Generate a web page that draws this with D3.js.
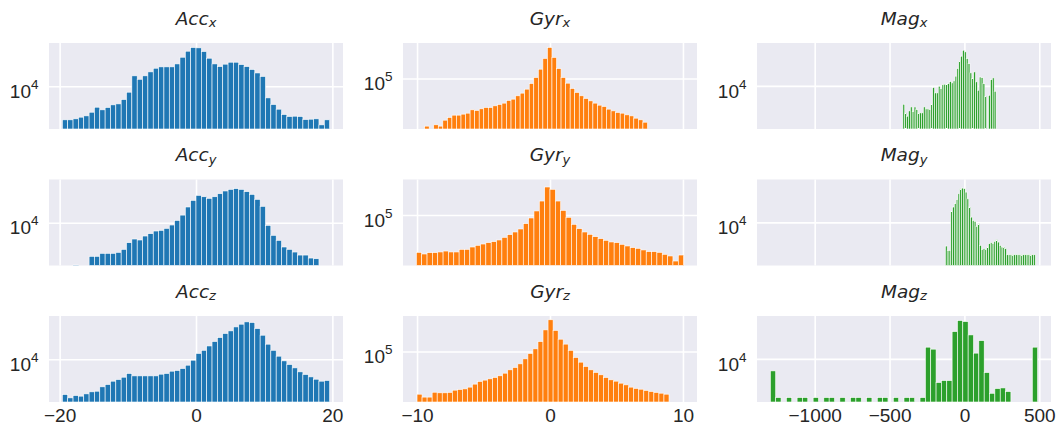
<!DOCTYPE html>
<html>
<head>
<meta charset="utf-8">
<script src="https://cdn.jsdelivr.net/npm/d3@7"></script>
<style>
  body { margin: 0; background: #fff; }
  svg { display: block; }
</style>
</head>
<body>
<div id="chart"></div>
<script>
// histogram counts, 50 bins each
var accX = [3130,3130,3240,3430,3590,4070,4840,4420,4790,5250,
            5430,6310,8130,14300,12700,14300,16400,18600,19500,19500,
            19500,21600,27200,33500,38000,37600,33100,26300,21600,19700,
            21400,22900,22900,21100,19700,17800,15800,14000,6680,5310,
            4520,3760,3510,3550,3510,3160,3200,3240,2630,3130];
var accY = [0,0,2320,0,0,3130,3130,3470,3470,3470,
            3590,3980,5010,5690,5500,6310,6840,7500,7670,8220,
            9230,10800,13000,17200,21600,25700,24500,23200,24500,27200,
            29900,31600,32400,31600,29200,26600,22400,17600,9120,6460,
            5430,4320,3980,3630,3270,3270,2950,2880,0,0];
var accZ = [2950,2630,2850,2790,3020,3240,3310,3850,4170,4680,
            4950,5370,6100,5620,5620,5620,5620,5620,5960,6100,
            6610,6760,7240,8130,9660,12200,13600,15800,18400,21100,
            24300,26600,30500,33500,36300,35500,28800,22900,16800,13600,
            11100,9440,8320,7410,6460,5890,5430,5010,4680,4790];

var gyrX = [0,19300,0,20200,19300,23700,26000,28200,28200,29200,
            30200,33900,33100,35100,36700,36700,38900,40700,42700,46800,
            49000,55000,60300,69200,84100,103500,138000,200000,292000,207000,
            141000,103500,85100,70800,61700,55000,50100,46200,42700,39800,
            38000,34700,32700,30900,30200,28500,27500,25400,24000,22100];
var gyrY = [27500,26000,27200,27200,27900,28800,27900,27900,30500,30500,
            33100,35100,36700,38500,39800,42200,46200,50700,55600,61700,
            74100,90200,115000,162000,263000,243000,162000,117000,92300,72400,
            62400,55600,51300,47300,44200,41700,39400,38500,36300,34300,
            32400,31600,29900,28200,28200,27500,25700,24300,20400,25100];
var gyrZ = [22900,20700,20700,24500,24000,24000,24300,26300,26900,27500,
            29200,32400,35500,37200,38900,40700,43200,47300,53100,57500,
            65300,77600,93300,109600,141000,211000,299000,207000,153000,129000,
            104000,81300,69200,59600,53100,48400,44700,40700,37600,35900,
            33500,31600,29200,27900,27200,26000,25100,24300,23700,22900];

var magX = [5310,3940,3510,4220,4840,4120,4840,4420,3940,3940,
            3940,4840,4520,4520,4420,5310,9440,7850,7850,9890,
            9120,10400,10600,10600,10800,11600,11100,11900,14000,18200,
            23700,27900,34300,32400,25700,21600,15700,12900,16200,11500,
            8610,13600,13300,10800,7000,0,7240,12400,13200,8320];
var magY = [4420,3800,3800,14600,17000,19100,22100,26900,32000,32700,
            32000,28500,22600,17000,12000,10700,10400,8710,9550,4520,
            3940,4030,3890,4270,4790,4950,4790,5190,5500,5070,
            4520,4270,4270,4030,3270,3270,3270,3270,3270,3270,
            3270,3270,3270,3270,3270,3270,3270,3270,3270,3270];
var magZ = [6610,2630,0,2630,0,2630,2630,0,2630,0,
            2630,2630,0,2630,0,2630,2630,0,2630,0,
            2630,2630,0,2630,0,2630,2630,0,2630,15000,
            14000,4420,4730,4730,25700,37600,36300,22900,12200,18800,
            6240,3050,3590,3670,3240,0,0,0,0,15000];

// min / max of each signal (histogram range)
var accXRange = [-19.6, 19.6], accYRange = [-19.6, 19.6], accZRange = [-19.6, 19.6];
var gyrXRange = [-9.77, 7.33], gyrYRange = [-10.05, 10.05], gyrZRange = [-10.0, 8.95];
var magXRange = [-411, 211], magYRange = [-127, 473], magZRange = [-1296, 489];

// x ticks per column, shared y limits per column
var accTicks = [-20, 0, 20], gyrTicks = [-10, 0, 10], magTicks = [-1000, -500, 0, 500];
var accYLim = [2280, 44460], gyrYLim = [17480, 340800], magYLim = [2257, 44000];

var names = ["Acc", "Gyr", "Mag"];
var axesNames = ["x", "y", "z"];

var cols = [
    {name: names[0], color: "#1f77b4", ticks: accTicks, ylim: accYLim,
     panels: [{c: accX, r: accXRange}, {c: accY, r: accYRange}, {c: accZ, r: accZRange}]},
    {name: names[1], color: "#ff7f0e", ticks: gyrTicks, ylim: gyrYLim,
     panels: [{c: gyrX, r: gyrXRange}, {c: gyrY, r: gyrYRange}, {c: gyrZ, r: gyrZRange}]},
    {name: names[2], color: "#2ca02c", ticks: magTicks, ylim: magYLim,
     panels: [{c: magX, r: magXRange}, {c: magY, r: magYRange}, {c: magZ, r: magZRange}]}
];

var colLeft = [49, 403, 757], rowTop = [43, 179.5, 316];
var W = 294, H = 86;
var tickFont = "'Liberation Sans', Arial, sans-serif";
var textCol = "#262626";

// plain numbers with a real minus sign, no thousands separator
function fmt(d) {
    return d < 0 ? "\u2212" + Math.abs(d) : String(d);
}

var svg = d3.select("#chart")
    .append("svg")
    .attr("width", 1058)
    .attr("height", 428);

cols.forEach(function(col, ci) {
    // shared x: union of the three ranges + 5% margin
    var lo = d3.min(col.panels, function(p) { return p.r[0]; });
    var hi = d3.max(col.panels, function(p) { return p.r[1]; });
    var pad = (hi - lo) * 0.05;
    var x = d3.scaleLinear()
        .domain([lo - pad, hi + pad])
        .range([colLeft[ci], colLeft[ci] + W]);

    col.panels.forEach(function(p, ri) {
        var top = rowTop[ri];
        var y = d3.scaleLog().domain(col.ylim).range([top + H, top]);
        var g = svg.append("g");

        g.append("rect")
            .attr("x", colLeft[ci]).attr("y", top)
            .attr("width", W).attr("height", H)
            .attr("fill", "#eaeaf2");

        // grid lines
        var gx = g.append("g")
            .attr("transform", "translate(0," + (top + H) + ")")
            .call(d3.axisBottom(x).tickValues(col.ticks).tickSize(-H).tickFormat(""));
        var yTicks = y.ticks().filter(function(v) {
            return Number.isInteger(Math.log10(v));
        });
        var gy = g.append("g")
            .attr("transform", "translate(" + colLeft[ci] + ",0)")
            .call(d3.axisLeft(y).tickValues(yTicks).tickSize(-W).tickFormat(""));
        [gx, gy].forEach(function(a) {
            a.select(".domain").remove();
            a.selectAll("line").attr("stroke", "#fff").attr("stroke-width", 1.6);
        });

        // bars
        var n = p.c.length;
        var bw = (p.r[1] - p.r[0]) / n;
        var bins = p.c.map(function(v, i) {
            return {v: v, x0: p.r[0] + i * bw, x1: p.r[0] + (i + 1) * bw};
        }).filter(function(d) { return d.v > 0; });

        g.selectAll("rect.bar")
            .data(bins)
            .enter()
            .append("rect")
            .attr("class", "bar")
            .attr("x", function(d) { return x(d.x0); })
            .attr("width", function(d) { return x(d.x1) - x(d.x0); })
            .attr("y", function(d) { return y(d.v); })
            .attr("height", function(d) { return top + H - y(d.v); })
            .attr("fill", col.color)
            .attr("stroke", "#fff")
            .attr("stroke-width", 0.6);

        // y tick label as 10^n
        yTicks.forEach(function(v) {
            var t = g.append("text")
                .attr("x", colLeft[ci] - 10.5)
                .attr("y", y(v) + 11.7)
                .attr("text-anchor", "end")
                .attr("font-family", tickFont)
                .attr("font-size", 19)
                .attr("fill", textCol);
            t.append("tspan").text("10");
            t.append("tspan").attr("dy", -9).attr("font-size", 13.5)
                .text(Math.round(Math.log10(v)));
        });

        // title
        var title = g.append("text")
            .attr("x", colLeft[ci] + W / 2)
            .attr("y", top - 18.5)
            .attr("text-anchor", "middle")
            .attr("font-family", "'DejaVu Sans', sans-serif")
            .attr("font-style", "italic")
            .attr("font-size", 18.5)
            .attr("fill", textCol);
        title.append("tspan").text(col.name);
        title.append("tspan").attr("dy", 2.5).attr("font-size", 13).text(axesNames[ri]);

        // x tick labels only on the bottom row
        if (ri === 2) {
            var ax = g.append("g")
                .attr("transform", "translate(0," + (top + H) + ")")
                .call(d3.axisBottom(x).tickValues(col.ticks).tickSize(0)
                    .tickPadding(6.4).tickFormat(fmt));
            ax.select(".domain").remove();
            ax.selectAll("text")
                .attr("font-family", tickFont)
                .attr("font-size", 19)
                .attr("fill", textCol);
        }
    });
});
</script>
</body>
</html>
